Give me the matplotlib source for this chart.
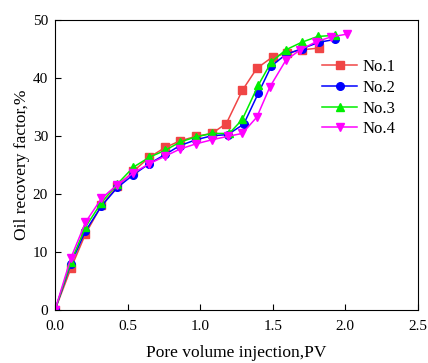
import matplotlib
matplotlib.use("Agg")
import matplotlib.pyplot as plt

plt.rcParams['font.family'] = ['Liberation Serif', 'DejaVu Serif']

pv1 = [0, 0.11, 0.21, 0.32, 0.43, 0.54, 0.65, 0.76, 0.86, 0.97, 1.08, 1.18, 1.29, 1.39, 1.50, 1.60, 1.70, 1.82]
no1 = [0, 7.2, 13.1, 18.0, 21.3, 23.9, 26.3, 28.0, 29.1, 29.9, 30.4, 32.1, 37.8, 41.6, 43.6, 44.2, 44.8, 45.1]

pv2 = [0, 0.11, 0.21, 0.32, 0.43, 0.54, 0.65, 0.76, 0.86, 0.97, 1.08, 1.19, 1.30, 1.40, 1.49, 1.59, 1.70, 1.82, 1.93]
no2 = [0, 8.0, 13.6, 17.9, 21.1, 23.3, 25.2, 26.8, 28.3, 29.3, 30.0, 30.2, 32.0, 37.3, 42.0, 44.0, 45.0, 46.1, 46.6]

pv3 = [0, 0.11, 0.21, 0.32, 0.43, 0.54, 0.65, 0.76, 0.86, 0.97, 1.08, 1.20, 1.29, 1.40, 1.49, 1.59, 1.70, 1.81, 1.93]
no3 = [0, 8.3, 14.3, 18.5, 21.7, 24.6, 26.3, 27.5, 28.9, 29.8, 30.4, 30.4, 32.8, 38.7, 42.7, 44.8, 46.1, 47.1, 47.3]

pv4 = [0, 0.11, 0.21, 0.32, 0.43, 0.54, 0.65, 0.76, 0.86, 0.97, 1.08, 1.19, 1.29, 1.39, 1.48, 1.59, 1.69, 1.80, 1.90, 2.01]
no4 = [0, 9.0, 15.1, 19.2, 21.6, 23.6, 25.2, 26.5, 27.7, 28.6, 29.3, 29.9, 30.4, 33.2, 38.4, 43.0, 44.8, 46.2, 47.0, 47.5]

fig = plt.figure(figsize=(4.28, 3.63), dpi=100)
ax = fig.add_axes([0.1285, 0.146, 0.848, 0.8])

ax.plot(pv1, no1, color='#F04545', marker='s', ms=5.5, lw=1.1, label='No.1')
ax.plot(pv2, no2, color='#0000FF', marker='o', ms=5.5, lw=1.1, label='No.2')
ax.plot(pv3, no3, color='#00EE00', marker='^', ms=6, lw=1.1, label='No.3')
ax.plot(pv4, no4, color='#FF00FF', marker='v', ms=6, lw=1.1, label='No.4')

ax.set_xlim(0, 2.5)
ax.set_ylim(0, 50)
ax.set_xticks([0, 0.5, 1.0, 1.5, 2.0, 2.5])
ax.set_yticks([0, 10, 20, 30, 40, 50])
ax.tick_params(direction='in', labelsize=11, length=4)
ax.tick_params(axis='x', pad=7)
ax.tick_params(axis='y', pad=5)
ax.set_xlabel('Pore volume injection,PV', fontsize=12.5, labelpad=9)
ax.set_ylabel('Oil recovery factor,%', fontsize=12.5, labelpad=2)

ax.legend(loc='upper left', bbox_to_anchor=(0.695, 0.915), frameon=False,
          fontsize=12, handlelength=2.1, labelspacing=0.28, handletextpad=0.3)

fig.savefig('out.png')
